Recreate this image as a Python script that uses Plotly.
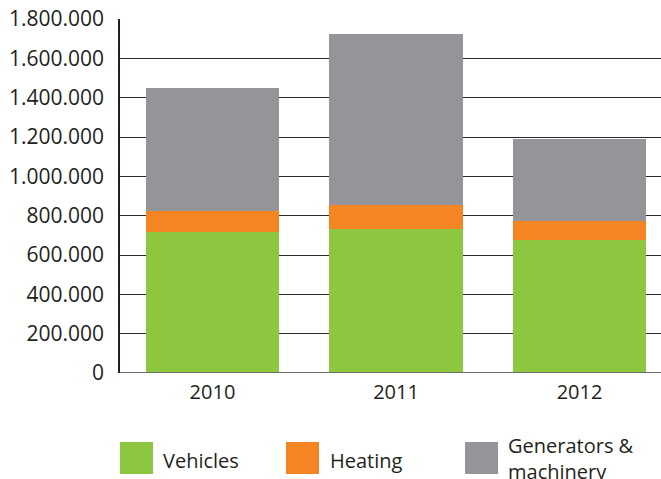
import plotly.graph_objects as go

years = ["2010", "2011", "2012"]
vehicles = [718000, 733000, 675000]
heating = [107000, 122000, 99000]
generators = [625000, 869000, 416000]

series_names = ["Vehicles", "Heating", "Generators &<br>machinery"]
series_colors = ["#8dc63f", "#f58423", "#939598"]
series_values = [vehicles, heating, generators]

W, H = 661, 479
L, R, T, B = 120, 661, 19, 373
FONT = "Open Sans"
TXT = "#231f20"

fig = go.Figure()
for name, color, vals in zip(series_names, series_colors, series_values):
    fig.add_trace(go.Bar(x=years, y=vals, name=name, marker=dict(color=color, line=dict(width=0)),
                         width=0.725, showlegend=False))

def px_x(p):
    return (p - L) / (R - L)

def px_y(p):
    return (B - p) / (B - T)

shapes = []
annotations = []
sq_x = [120, 286, 465]
txt_x = [161, 328, 506]
for i, (name, color) in enumerate(zip(series_names, series_colors)):
    shapes.append(dict(type="rect", xref="paper", yref="paper",
                       x0=px_x(sq_x[i]), x1=px_x(sq_x[i] + 33),
                       y0=px_y(442), y1=px_y(474),
                       fillcolor=color, line=dict(width=0), layer="above"))
    annotations.append(dict(xref="paper", yref="paper", x=px_x(txt_x[i]),
                            y=px_y(460 if i < 2 else 458), xanchor="left", yanchor="middle",
                            text=name, showarrow=False, align="left",
                            font=dict(family=FONT, size=20, color=TXT)))

fig.update_layout(
    width=W, height=H,
    margin=dict(l=L, r=W - R, t=T, b=H - B, pad=0),
    paper_bgcolor="white", plot_bgcolor="white",
    barmode="stack",
    separators=",.",
    font=dict(family=FONT, size=20, color=TXT),
    xaxis=dict(type="category", range=[-0.504, 2.444], showgrid=False, zeroline=False,
               showline=False, ticks="", automargin=False, ticklabelstandoff=5,
               tickfont=dict(size=20, color=TXT)),
    yaxis=dict(range=[0, 1800000], dtick=200000, tickformat=",d", showgrid=True,
               gridcolor="#2b2b2b", gridwidth=1.4, zeroline=False,
               showline=True, linecolor="#231f20", linewidth=1.5, automargin=False,
               ticks="", ticklabelstandoff=10, tickfont=dict(size=21, color=TXT)),
    shapes=shapes + [dict(type="line", xref="paper", yref="y", x0=0, x1=1, y0=0, y1=0,
                          line=dict(color="#6d6e71", width=2), layer="above")],
    annotations=annotations,
)

fig.write_html("out.html", config={"displayModeBar": False},
               post_script="document.body.style.margin='0';document.body.style.overflow='hidden';")
